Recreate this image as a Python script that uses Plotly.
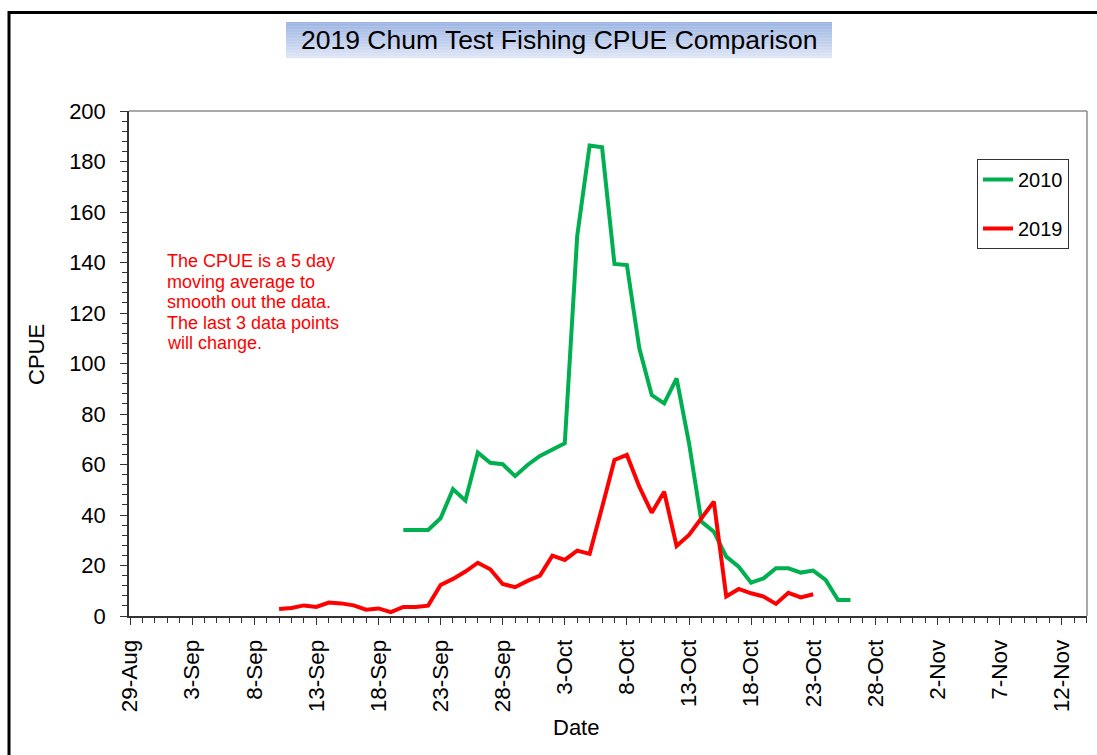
import plotly.graph_objects as go

# ---- data ----
dates_2019 = ["2019-09-%02d" % d for d in range(10, 31)] + ["2019-10-%02d" % d for d in range(1, 24)]
cpue_2019 = [2.8, 3.2, 4.2, 3.6, 5.3, 5.0, 4.2, 2.5, 3.0, 1.5,
             3.6, 3.6, 4.1, 12.3, 14.7, 17.6, 21.1, 18.5, 12.7, 11.4,
             13.9,
             16.0, 23.9, 22.2, 25.9, 24.6, 43.0, 61.8, 63.8, 51.2, 40.9,
             49.2, 27.7, 32.1, 38.7, 45.3, 7.7, 10.7, 9.0, 7.7, 4.8,
             9.2, 7.4, 8.6]

dates_2010 = ["2019-09-%02d" % d for d in range(20, 31)] + ["2019-10-%02d" % d for d in range(1, 27)]
cpue_2010 = [34.1, 34.1, 34.1, 38.7, 50.2, 45.7, 64.7, 60.7, 60.1, 55.4,
             59.8,
             63.4, 65.7, 68.4, 150.5, 186.3, 185.6, 139.4, 139.0, 106.0, 87.5,
             84.2, 94.1, 68.5, 37.4, 33.4, 23.5, 19.5, 13.2, 14.9, 18.9,
             18.9, 17.2, 18.0, 14.3, 6.3, 6.3]

series_names = ["2010", "2019"]
series_colors = ["#00B050", "#FF0000"]

title_text = "2019 Chum Test Fishing CPUE Comparison"
note_lines = ["The CPUE is a 5 day", "moving average to", "smooth out the data.",
              "The last 3 data points", "will change."]
x_title = "Date"
y_title = "CPUE"

FONT = "Liberation Sans, Arial, sans-serif"

W, H = 1097, 755
L, R, T, B = 129, 1087, 111, 616  # plot area in pixels


def px(x):
    return (x - L) / (R - L)


def py(y):
    return (B - y) / (B - T)


fig = go.Figure()
for name, xs, ys, col in [(series_names[0], dates_2010, cpue_2010, series_colors[0]),
                          (series_names[1], dates_2019, cpue_2019, series_colors[1])]:
    fig.add_trace(go.Scatter(x=xs, y=ys, mode="lines", name=name, legendgroup=name,
                             line=dict(color=col, width=4)))

shapes = []
# outer chart border
shapes.append(dict(type="rect", xref="paper", yref="paper",
                   x0=px(9), x1=px(1115), y0=py(775), y1=py(12.5),
                   line=dict(color="black", width=3), fillcolor="rgba(0,0,0,0)", layer="below"))
# top / right plot border in gray
shapes.append(dict(type="line", xref="paper", yref="paper", x0=0, x1=1, y0=1, y1=1,
                   line=dict(color="#8c8c8c", width=1.5)))
shapes.append(dict(type="line", xref="paper", yref="paper", x0=1, x1=1, y0=0, y1=1,
                   line=dict(color="#8c8c8c", width=1.5)))
# gradient title box (stacked strips)
c_top = (157, 181, 227)
c_bot = (222, 229, 245)
n = 24
y_top, y_bot = 22, 58
for i in range(n):
    t = i / (n - 1)
    c = tuple(int(round(c_top[k] + (c_bot[k] - c_top[k]) * t)) for k in range(3))
    ya = y_top + (y_bot - y_top) * i / n
    yb = y_top + (y_bot - y_top) * (i + 1) / n
    shapes.append(dict(type="rect", xref="paper", yref="paper",
                       x0=px(286), x1=px(832), y0=py(yb + 0.3), y1=py(ya),
                       line=dict(width=0), fillcolor="rgb(%d,%d,%d)" % c, layer="below"))

annotations = [
    dict(text=title_text, xref="paper", yref="paper", x=px(559), y=py(40),
         xanchor="center", yanchor="middle", showarrow=False,
         font=dict(family=FONT, size=26.5, color="black")),
    dict(text=y_title, xref="paper", yref="paper", x=px(36), y=py(355),
         xanchor="center", yanchor="middle", showarrow=False, textangle=-90,
         font=dict(family=FONT, size=22, color="black")),
    dict(text=x_title, xref="paper", yref="paper", x=px(575.5), y=py(727),
         xanchor="center", yanchor="middle", showarrow=False,
         font=dict(family=FONT, size=22, color="black")),
]
for i, line in enumerate(note_lines):
    annotations.append(dict(text=line, xref="paper", yref="paper", x=px(165), y=py(261 + 20.6 * i),
                            xanchor="left", yanchor="middle", showarrow=False,
                            font=dict(family=FONT, size=18, color="#FF0000")))

fig.update_layout(
    width=W, height=H,
    margin=dict(l=L, r=W - R, t=T, b=H - B, pad=0),
    paper_bgcolor="white", plot_bgcolor="white",
    font=dict(family=FONT, color="black"),
    showlegend=True,
    legend=dict(x=px(977), y=py(159), xanchor="left", yanchor="top",
                bgcolor="white", bordercolor="#333333", borderwidth=1,
                font=dict(family=FONT, size=20, color="black"),
                traceorder="grouped", tracegroupgap=20),
    shapes=shapes,
    annotations=annotations,
    xaxis=dict(type="date", range=["2019-08-28 22:00", "2019-11-14 01:00"],
               tick0="2019-08-29", dtick=5 * 86400000, tickformat="%-d-%b",
               tickangle=-90, ticks="outside", ticklen=7, tickwidth=1.2, tickcolor="#333333",
               showline=True, linecolor="#333333", linewidth=1.5,
               showgrid=False, zeroline=False,
               tickfont=dict(family=FONT, size=22.5, color="black"),
               ticklabelstandoff=6,
               minor=dict(dtick=86400000, ticks="outside", ticklen=5, tickcolor="#333333",
                          tickwidth=1, showgrid=False)),
    yaxis=dict(range=[0, 200], dtick=20, tick0=0,
               ticks="outside", ticklen=7, tickwidth=1.2, tickcolor="#333333",
               showline=True, linecolor="#333333", linewidth=1.5,
               showgrid=False, zeroline=False,
               tickfont=dict(family=FONT, size=22, color="black"),
               ticklabelstandoff=10,
               minor=dict(dtick=4, ticks="outside", ticklen=5, tickcolor="#333333",
                          tickwidth=1, showgrid=False)),
)

fig.write_html("out.html", config={"displayModeBar": False},
               post_script="document.body.style.margin='0px';document.body.style.overflow='hidden';")
